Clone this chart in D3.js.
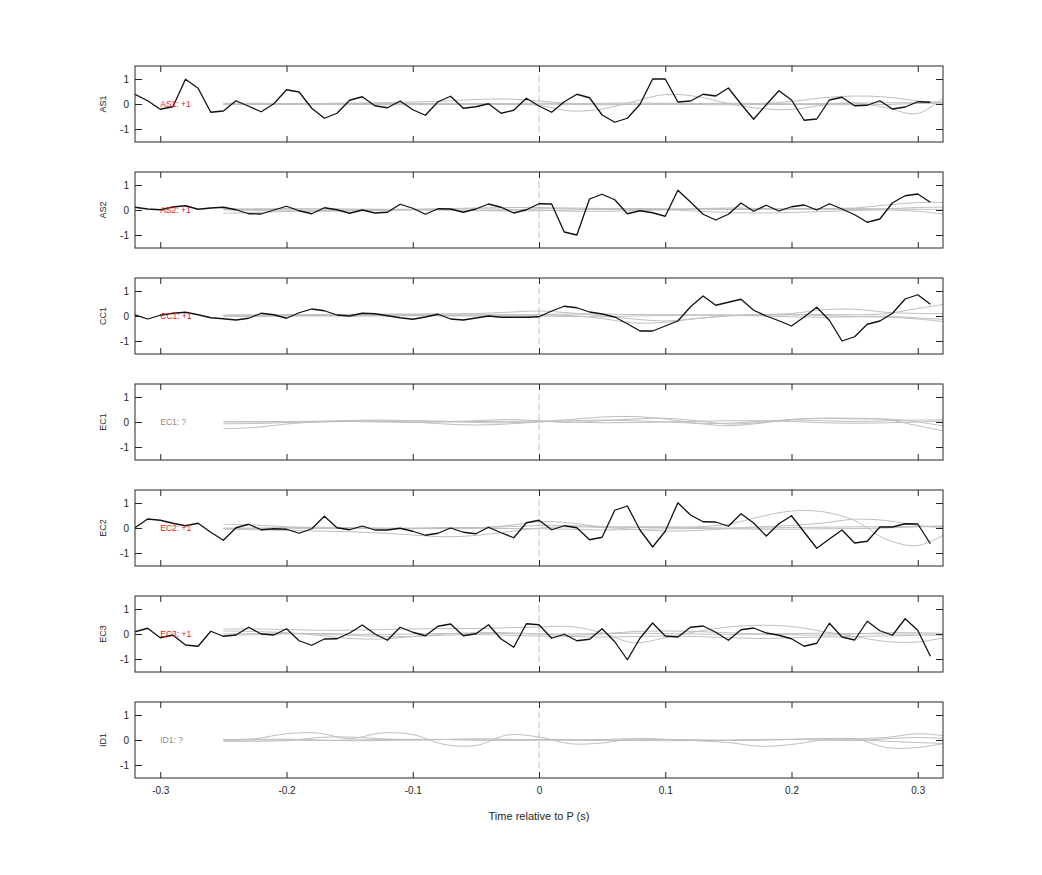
<!DOCTYPE html>
<html><head><meta charset="utf-8">
<script src="https://cdn.jsdelivr.net/npm/d3@7"></script>
<style>body{margin:0;background:#fff} text{font-family:"Liberation Sans",Arial,Helvetica,sans-serif}</style>
</head><body><svg id="c" width="1042" height="875"></svg>
<script>
const channels = ["AS1","AS2","CC1","EC1","EC2","EC3","ID1"];
const polarity = ["+1","+1","+1","?","+1","+1","?"];
const xTicks = [-0.3,-0.2,-0.1,0,0.1,0.2,0.3];
const xTickLabels = ["-0.3","-0.2","-0.1","0","0.1","0.2","0.3"];
const yTicks = [-1,0,1];
const yTickLabels = ["-1","0","1"];
const xLabel = "Time relative to P (s)";

const tBlack = [-0.32,-0.31,-0.30,-0.29,-0.28,-0.27,-0.26,-0.25,-0.24,-0.23,-0.22,-0.21,-0.20,-0.19,-0.18,-0.17,-0.16,-0.15,-0.14,-0.13,-0.12,-0.11,-0.10,-0.09,-0.08,-0.07,-0.06,-0.05,-0.04,-0.03,-0.02,-0.01,0.00,
  0.01,0.02,0.03,0.04,0.05,0.06,0.07,0.08,0.09,0.10,0.11,0.12,0.13,0.14,0.15,0.16,0.17,0.18,0.19,0.20,0.21,0.22,0.23,0.24,0.25,0.26,0.27,0.28,0.29,0.30,0.31];
const tGray = [-0.25,-0.225,-0.2,-0.175,-0.15,-0.125,-0.1,-0.075,-0.05,-0.025,0,0.025,0.05,0.075,0.1,0.125,0.15,0.175,0.2,0.225,0.25,0.275,0.3,0.325];

const blackAS1 = [0.39,0.13,-0.21,-0.11,0.99,0.63,-0.33,-0.28,0.13,-0.09,-0.31,0.01,0.57,0.48,-0.17,-0.57,-0.37,0.15,0.29,-0.07,-0.15,0.12,-0.23,-0.45,0.09,0.31,-0.17,-0.11,0.01,-0.37,-0.25,0.23,-0.08,
  -0.33,0.09,0.39,0.25,-0.44,-0.73,-0.57,-0.01,1.0,1.0,0.08,0.12,0.39,0.32,0.64,0.0,-0.61,-0.03,0.53,0.16,-0.65,-0.6,0.16,0.27,-0.07,-0.05,0.13,-0.2,-0.12,0.09,0.07];
const blackAS2 = [0.11,0.04,0.01,0.12,0.17,0.03,0.08,0.11,0.01,-0.15,-0.16,0.0,0.15,-0.03,-0.15,0.09,0.01,-0.13,0.0,-0.12,-0.09,0.23,0.07,-0.17,0.05,0.04,-0.09,0.04,0.24,0.11,-0.12,0.01,0.25,
  0.24,-0.88,-1.0,0.44,0.63,0.41,-0.15,-0.03,-0.11,-0.25,0.79,0.32,-0.17,-0.4,-0.17,0.28,-0.05,0.19,-0.04,0.13,0.2,0.0,0.25,0.04,-0.19,-0.49,-0.36,0.29,0.57,0.64,0.31];
const blackCC1 = [0.05,-0.12,0.03,0.11,0.15,0.05,-0.07,-0.11,-0.16,-0.09,0.11,0.05,-0.09,0.13,0.28,0.21,0.04,0.0,0.11,0.09,0.01,-0.07,-0.13,-0.04,0.07,-0.12,-0.16,-0.08,0.0,-0.05,-0.05,-0.05,-0.03,
  0.2,0.39,0.33,0.16,0.08,-0.04,-0.31,-0.6,-0.6,-0.4,-0.2,0.37,0.8,0.43,0.55,0.67,0.23,0.0,-0.19,-0.4,-0.04,0.35,-0.17,-1.0,-0.83,-0.33,-0.2,0.11,0.68,0.85,0.47];
const blackEC2 = [0.01,0.36,0.31,0.19,0.09,0.19,-0.17,-0.49,0.01,0.15,-0.07,-0.03,-0.05,-0.21,-0.03,0.47,0.01,-0.07,0.08,-0.08,-0.08,-0.01,-0.13,-0.29,-0.21,0.0,-0.17,-0.23,0.03,-0.19,-0.39,0.21,0.31,
  -0.07,0.09,0.01,-0.47,-0.37,0.71,0.88,-0.08,-0.76,-0.13,1.01,0.52,0.25,0.24,0.07,0.57,0.2,-0.32,0.17,0.49,-0.16,-0.81,-0.44,-0.08,-0.6,-0.53,0.04,0.04,0.17,0.16,-0.63];
const blackEC3 = [0.09,0.23,-0.15,-0.04,-0.44,-0.49,0.11,-0.09,-0.04,0.27,0.0,-0.04,0.21,-0.27,-0.45,-0.2,-0.19,0.04,0.36,0.0,-0.25,0.27,0.07,-0.07,0.31,0.4,-0.07,0.01,0.37,-0.2,-0.53,0.41,0.37,
  -0.17,-0.01,-0.27,-0.21,0.21,-0.31,-1.03,-0.17,0.44,-0.08,-0.12,0.27,0.32,0.07,-0.25,0.17,0.24,0.04,-0.05,-0.19,-0.49,-0.37,0.43,-0.12,-0.24,0.51,0.13,-0.05,0.61,0.15,-0.89];
const blackSeries = [blackAS1, blackAS2, blackCC1, null, blackEC2, blackEC3, null];

const grayAS1 = [
  [0,0.01,0.02,0.02,0.03,0.05,0.08,0.12,0.18,0.2,0.12,0.02,0,0,0,0,0,0.02,0.1,0.25,0.32,0.28,0.12,0.05],
  [0,0,0,0,0,0,0,0,0,-0.02,-0.05,-0.28,-0.2,0.1,0.38,0.3,0.02,-0.18,-0.22,-0.05,0.05,-0.15,-0.38,0.45],
  [0.03,0.03,0.02,0.02,0.03,0.02,0.02,0.03,0.02,0.02,0.03,0.02,0.03,0.04,0.03,0.02,0.03,0.02,0.01,0.02,0.03,0.05,0.05,0.08],
  [-0.03,-0.02,-0.02,-0.01,-0.02,-0.02,-0.03,-0.02,-0.02,-0.02,-0.01,-0.02,-0.03,-0.02,-0.01,-0.02,-0.03,-0.02,-0.02,-0.02,-0.03,-0.02,0.02,0.0]];
const grayAS2 = [
  [-0.13,-0.1,-0.06,-0.03,-0.01,0,0.02,0.05,0.08,0.1,0.1,0.08,0.06,0.06,0.05,0.03,0.02,0.03,0.05,0.06,0.08,0.2,0.3,0.3],
  [0.02,0.02,0.01,0,0,0.02,0.03,0.04,0.05,0.03,0,-0.05,-0.05,-0.03,0,0.05,0.08,0.06,0.04,0.03,0.02,0.05,0.1,0.12],
  [0,-0.02,-0.04,-0.05,-0.04,-0.02,0,0,-0.02,-0.04,-0.03,0,0.03,0.05,0.02,-0.05,-0.1,-0.12,-0.1,-0.06,-0.02,0,-0.05,-0.2],
  [0.05,0.05,0.06,0.05,0.04,0.03,0.02,0.0,-0.02,0,0.05,0.05,0.03,0.02,0.03,0.04,0.05,0.04,0.03,0.05,0.06,0.04,0.03,0.02]];
const grayCC1 = [
  [0.02,0.03,0.05,0.06,0.07,0.08,0.08,0.09,0.1,0.15,0.2,0.12,0.0,-0.12,-0.2,-0.1,0,0.05,0.05,0.02,-0.02,-0.05,-0.12,-0.25],
  [-0.02,-0.02,0,0.02,0.04,0.03,0.02,0.02,0.04,0.05,0.04,0.02,-0.1,-0.28,-0.25,-0.1,0.02,0.05,0.1,0.25,0.27,0.15,0.1,0.1],
  [0.04,0.05,0.04,0.03,0.04,0.05,0.06,0.05,0.04,0.04,0.05,0.08,0.08,0.06,0.05,0.05,0.04,0.03,0.05,0.06,0.05,0.1,0.3,0.5],
  [0.0,0.0,0.01,0.0,-0.01,0.0,0.01,0.0,0.0,0.01,0.0,-0.02,-0.03,0,0.02,0.03,0.03,0.0,-0.03,-0.05,-0.03,0.0,-0.08,-0.15]];
const grayEC1 = [
  [-0.27,-0.22,-0.08,0,0.02,0.03,0.05,0.03,-0.02,-0.03,0.02,0.1,0.2,0.22,0.12,-0.05,-0.15,-0.05,0.1,0.15,0.12,0.12,0.0,-0.2],
  [-0.07,-0.06,-0.02,0.02,0.06,0.08,0.05,0.02,0.05,0.1,0.05,-0.02,0.05,0.12,0.15,0.05,-0.08,-0.02,0.1,0.15,0.15,0.1,-0.15,-0.4],
  [0.02,0.02,0.02,0.03,0.05,0.03,0.0,-0.08,-0.12,-0.08,0.0,0.05,0.08,0.05,0.0,-0.05,-0.05,0.03,0.08,0.05,0.02,0.05,0.08,0.08],
  [0.0,0.0,0.0,0.01,0.02,0.0,-0.02,0.0,0.02,0.03,0.03,0.0,-0.03,-0.02,0.0,0.03,0.05,0.05,0.02,-0.03,-0.05,-0.03,0.0,0.05]];
const grayEC2 = [
  [0.15,0.12,0.05,0.0,-0.02,-0.02,0,0.02,0.02,0.05,0.1,0.1,0.05,0.02,0.02,0.05,0.15,0.45,0.68,0.65,0.3,-0.45,-0.7,-0.15],
  [-0.05,-0.07,-0.1,-0.12,-0.15,-0.2,-0.28,-0.35,-0.3,-0.15,0.0,0.05,0.02,-0.05,-0.12,-0.1,-0.02,0.05,0.1,0.2,0.35,0.3,0.1,0.0],
  [0.0,0.0,0.02,0.03,0.02,0.0,-0.02,-0.02,0.0,0.1,0.25,0.2,0.05,0.05,0.05,0.02,0.0,0.0,0.02,0.03,0.05,0.05,0.05,0.05],
  [-0.02,-0.03,-0.03,-0.02,-0.01,-0.02,-0.03,-0.02,-0.01,-0.02,-0.03,-0.05,-0.08,-0.06,-0.03,-0.02,-0.03,-0.05,-0.05,-0.03,-0.02,0.0,0.05,0.1]];
const grayEC3 = [
  [0.2,0.2,0.18,0.15,0.15,0.18,0.2,0.22,0.22,0.25,0.28,0.3,0.05,-0.35,-0.15,0.1,0.28,0.35,0.3,0.1,-0.1,-0.3,-0.32,-0.1],
  [0.12,0.1,0.05,-0.05,-0.18,-0.2,-0.1,0.0,0.05,0.05,0.0,-0.05,0.0,0.1,0.12,0.1,0.05,0.0,-0.03,-0.05,0.0,0.05,0.05,0.02],
  [0.0,0.02,0.03,0.0,-0.05,-0.1,-0.1,-0.05,-0.02,-0.05,-0.08,-0.1,-0.12,-0.1,-0.08,-0.1,-0.15,-0.18,-0.15,-0.12,-0.1,-0.08,-0.05,-0.05],
  [-0.05,-0.03,0.0,0.02,0.0,-0.02,0.0,0.02,0.03,0.02,0.0,0.0,0.02,0.03,0.02,0.0,-0.02,0.0,0.02,0.03,0.02,0.0,0.0,0.0]];
const grayID1 = [
  [0.0,0.05,0.25,0.28,0.05,0.28,0.22,-0.18,-0.22,0.2,0.12,-0.15,-0.12,0.05,0.02,-0.03,-0.1,-0.25,-0.18,0.0,0.05,-0.3,-0.3,-0.1],
  [-0.06,-0.05,-0.03,0.1,0.12,0.05,0.0,0.02,0.05,0.03,0.0,0.0,0.02,0.05,0.03,0.0,-0.02,0.0,0.02,0.05,0.05,0.1,0.25,0.15],
  [0.02,0.03,0.03,0.0,-0.03,-0.02,0.0,0.02,0.0,-0.02,0.0,0.02,0.0,-0.02,-0.03,-0.02,0.0,0.02,0.03,0.05,0.02,-0.05,-0.1,-0.15],
  [-0.02,0.0,0.0,-0.02,0.0,0.02,0.03,0.02,0.0,0.0,0.02,0.0,-0.02,0.0,0.02,0.0,-0.02,0.0,0.02,0.0,-0.03,0.05,0.1,0.05]];
const graySeries = [grayAS1, grayAS2, grayCC1, grayEC1, grayEC2, grayEC3, grayID1];

const svg = d3.select("#c");
const left = 135, right = 943;
const panelH = 76, firstTop = 66, step = 106;
const x = d3.scaleLinear().domain([-0.32, 0.32]).range([left, right]);

svg.append("defs").selectAll("clipPath").data(channels).join("clipPath")
  .attr("id", (d,i) => "clip" + i)
  .append("rect").attr("x", left).attr("y", (d,i) => firstTop + i*step)
  .attr("width", right-left).attr("height", panelH);

channels.forEach((ch, i) => {
  const top = firstTop + i*step;
  const y = d3.scaleLinear().domain([-1.52, 1.52]).range([top + panelH, top]);
  const g = svg.append("g");
  const plot = g.append("g").attr("clip-path", `url(#clip${i})`);
  const known = polarity[i] !== "?";

  const lineG = d3.line().x(d => x(d[0])).y(d => y(d[1])).curve(d3.curveCatmullRom.alpha(0.5));
  graySeries[i].forEach(s => {
    plot.append("path").datum(tGray.map((t,k) => [t, s[k]]))
      .attr("d", lineG).attr("fill","none").attr("stroke","#bfbfbf").attr("stroke-width",1);
  });

  // zero marker
  plot.append("line").attr("x1", x(0)).attr("x2", x(0)).attr("y1", y(1.15)).attr("y2", y(-1.15))
    .attr("stroke", known ? "#d9a3a3" : "#b4b4b4").attr("stroke-width", 0.8).attr("stroke-dasharray", "7,3");

  if (blackSeries[i]) {
    const lineB = d3.line().x(d => x(d[0])).y(d => y(d[1]));
    plot.append("path").datum(tBlack.map((t,k) => [t, blackSeries[i][k]]))
      .attr("d", lineB).attr("fill","none").attr("stroke","#111").attr("stroke-width",1.3)
      .attr("stroke-linejoin","round");
  }

  g.append("text").attr("x", x(-0.3)).attr("y", y(0)).attr("dy","0.35em")
    .attr("font-size", 8.5).attr("fill", known ? "#e8141a" : "#8c8c8c")
    .text(ch + ": " + polarity[i]);

  // box
  g.append("rect").attr("x", left).attr("y", top).attr("width", right-left).attr("height", panelH)
    .attr("fill","none").attr("stroke","#262626").attr("stroke-width",1);

  // axes with inward ticks
  const axB = d3.axisBottom(x).tickValues(xTicks).tickSize(-6)
    .tickFormat((d,k) => i === channels.length-1 ? xTickLabels[k] : "");
  const axT = d3.axisTop(x).tickValues(xTicks).tickSize(-6).tickFormat("");
  const axL = d3.axisLeft(y).tickValues(yTicks).tickSize(-7).tickPadding(6)
    .tickFormat((d,k) => yTickLabels[k]);
  const axR = d3.axisRight(y).tickValues(yTicks).tickSize(-7).tickFormat("");
  const style = sel => {
    sel.select(".domain").remove();
    sel.selectAll(".tick line").attr("stroke","#262626");
    sel.selectAll("text").attr("fill","#262626").attr("font-size",10)
      .attr("font-family",'"Liberation Sans",Arial,sans-serif');
  };
  g.append("g").attr("transform",`translate(0,${top+panelH})`).call(axB).call(style)
    .selectAll("text").attr("dy","1.25em");
  g.append("g").attr("transform",`translate(0,${top})`).call(axT).call(style);
  g.append("g").attr("transform",`translate(${left},0)`).call(axL).call(style);
  g.append("g").attr("transform",`translate(${right},0)`).call(axR).call(style);

  g.append("text").attr("transform", `translate(106,${y(0)}) rotate(-90)`)
    .attr("text-anchor","middle").attr("font-size",9).attr("fill","#262626").text(ch);
});

svg.append("text").attr("x", x(0)).attr("y", 820).attr("text-anchor","middle")
  .attr("font-size", 11).attr("fill","#262626").text(xLabel);
</script></body></html>
